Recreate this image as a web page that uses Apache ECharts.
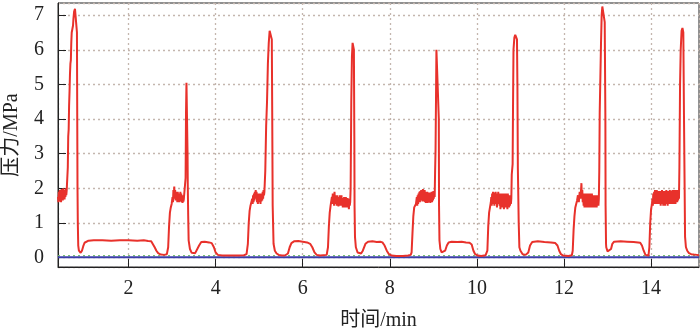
<!DOCTYPE html>
<html>
<head>
<meta charset="utf-8">
<script src="https://cdn.jsdelivr.net/npm/echarts@6/dist/echarts.min.js"></script>
<style>html,body{margin:0;padding:0;background:#fff}#c{width:700px;height:330px}</style>
</head>
<body>
<div id="c"></div>
<script>
// x: time (min), y: pressure (MPa)
const xRange = [0.38, 15.1];
const yRange = [-0.27, 7.35];
const xName = '时间/min';
const yName = '压力/MPa';

const cycle0 = [[0.38,1.75],[0.39,1.6],[0.40,1.9],[0.41,1.62],[0.42,1.95],[0.43,1.68],[0.44,1.9],[0.45,1.6],[0.46,1.98],[0.47,1.7],[0.48,1.92],[0.49,1.65],[0.50,2.0],[0.51,1.72],[0.52,1.95],[0.53,1.68],[0.54,1.9],[0.55,1.75],[0.56,2.0],[0.57,1.8],[0.58,1.95],[0.595,1.9],
[0.605,2.6],[0.615,3.5],[0.625,3.7],[0.635,4.4],[0.645,4.8],[0.655,5.3],[0.665,5.6],[0.675,5.7],[0.685,6.2],[0.695,6.5],[0.71,6.6],[0.725,6.7],[0.735,6.9],[0.75,7.1],[0.77,7.18],[0.79,7.15],[0.805,7.2],[0.815,6.5],[0.822,4.0],[0.828,2.0],[0.835,1.0],[0.845,0.35],[0.86,0.2],[0.88,0.15],[0.90,0.14],[0.93,0.2],[0.96,0.33],[0.99,0.43],[1.03,0.47],[1.08,0.49],[1.2,0.5],[1.4,0.5],[1.6,0.49],[1.8,0.5],[2.0,0.5],[2.2,0.49],[2.35,0.5],[2.45,0.48],[2.52,0.47],[2.56,0.42],[2.6,0.3],[2.64,0.2],[2.68,0.13],[2.74,0.09],[2.82,0.08],[2.88,0.1]];

const cycle1 = [[2.91,0.3],[2.93,0.9],[2.95,1.3],[2.97,1.45],[2.99,1.55],[3.01,1.75],[3.02,1.6],[3.03,1.95],[3.04,1.7],[3.05,2.05],[3.06,1.75],[3.07,1.95],[3.08,1.65],[3.09,1.9],[3.10,1.7],[3.11,1.85],[3.12,1.6],[3.13,1.9],[3.14,1.65],[3.15,1.85],[3.16,1.6],[3.17,1.8],[3.18,1.62],[3.19,1.9],[3.20,1.65],[3.21,1.85],[3.22,1.6],[3.23,1.8],[3.24,1.58],[3.25,1.75],[3.26,1.62],[3.27,1.7],[3.28,1.72],[3.30,1.75],
[3.31,2.3],[3.32,4.2],[3.33,5.05],[3.345,5.0],[3.355,3.0],[3.36,2.1],[3.37,1.2],[3.38,0.5],[3.41,0.25],[3.45,0.14],[3.49,0.12],[3.53,0.13],[3.57,0.17],[3.62,0.35],[3.67,0.45],[3.75,0.46],[3.85,0.44],[3.91,0.42],[3.96,0.3],[4.0,0.15],[4.05,0.08],[4.15,0.06],[4.3,0.06],[4.5,0.06],[4.65,0.07],[4.71,0.1]];

const cycle2 = [[4.74,0.4],[4.76,1.0],[4.78,1.35],[4.80,1.5],[4.82,1.55],[4.84,1.7],[4.85,1.55],[4.86,1.8],[4.87,1.6],[4.88,1.85],[4.89,1.65],[4.90,1.9],[4.91,1.7],[4.92,1.95],[4.93,1.72],[4.94,1.9],[4.95,1.6],[4.96,1.85],[4.97,1.55],[4.98,1.8],[4.99,1.6],[5.00,1.85],[5.01,1.62],[5.02,1.8],[5.03,1.55],[5.04,1.85],[5.05,1.62],[5.06,1.8],[5.07,1.65],[5.08,1.9],[5.09,1.7],[5.10,1.95],[5.11,1.8],[5.12,1.9],
[5.14,2.5],[5.16,3.8],[5.18,4.5],[5.20,5.6],[5.22,6.2],[5.24,6.55],[5.26,6.52],[5.28,6.5],[5.29,6.3],[5.30,4.0],[5.31,1.5],[5.33,0.4],[5.36,0.2],[5.40,0.12],[5.45,0.08],[5.52,0.06],[5.60,0.07],[5.66,0.12],[5.70,0.3],[5.74,0.42],[5.80,0.47],[5.90,0.48],[6.0,0.46],[6.1,0.44],[6.17,0.4],[6.22,0.3],[6.27,0.15],[6.32,0.08],[6.4,0.06],[6.55,0.08]];

const cycle3 = [[6.58,0.3],[6.60,0.9],[6.62,1.3],[6.64,1.5],[6.66,1.5],[6.67,1.75],[6.68,1.55],[6.69,1.85],[6.70,1.6],[6.71,1.8],[6.72,1.5],[6.73,1.9],[6.74,1.6],[6.75,1.8],[6.76,1.55],[6.77,1.75],[6.78,1.5],[6.79,1.8],[6.80,1.6],[6.81,1.75],[6.82,1.48],[6.83,1.7],[6.84,1.55],[6.85,1.8],[6.86,1.5],[6.87,1.75],[6.88,1.6],[6.89,1.8],[6.90,1.5],[6.91,1.7],[6.92,1.45],[6.93,1.72],[6.94,1.55],[6.95,1.75],[6.96,1.45],[6.97,1.7],[6.98,1.5],[6.99,1.75],[7.00,1.45],[7.01,1.7],[7.02,1.5],[7.03,1.72],[7.04,1.45],[7.05,1.7],[7.06,1.4],[7.07,1.65],[7.08,1.5],[7.09,1.6],
[7.10,2.0],[7.115,4.5],[7.13,5.8],[7.145,6.2],[7.16,6.15],[7.175,6.0],[7.185,3.5],[7.19,1.5],[7.20,0.6],[7.22,0.3],[7.26,0.15],[7.30,0.1],[7.34,0.12],[7.38,0.2],[7.44,0.4],[7.5,0.46],[7.6,0.47],[7.7,0.45],[7.78,0.46],[7.83,0.44],[7.88,0.35],[7.93,0.2],[7.98,0.1],[8.04,0.06],[8.15,0.05],[8.3,0.05],[8.42,0.06],[8.48,0.08]];

const cycle4 = [[8.50,0.15],[8.52,0.7],[8.54,1.2],[8.56,1.45],[8.58,1.5],[8.60,1.55],[8.62,1.75],[8.63,1.5],[8.64,1.8],[8.65,1.55],[8.66,1.85],[8.67,1.6],[8.68,1.9],[8.69,1.6],[8.70,1.92],[8.71,1.65],[8.72,1.95],[8.73,1.65],[8.74,1.95],[8.75,1.62],[8.76,1.98],[8.77,1.65],[8.78,1.95],[8.79,1.62],[8.80,1.95],[8.81,1.6],[8.82,1.9],[8.83,1.58],[8.84,1.88],[8.85,1.6],[8.86,1.9],[8.87,1.58],[8.88,1.85],[8.89,1.6],[8.90,1.88],[8.91,1.6],[8.92,1.85],[8.93,1.58],[8.94,1.88],[8.95,1.62],[8.96,1.9],[8.97,1.6],[8.98,1.9],[8.99,1.65],[9.00,1.92],[9.01,1.7],[9.02,1.85],[9.03,1.75],
[9.04,2.5],[9.05,3.1],[9.06,4.5],[9.07,6.0],[9.09,6.05],[9.11,6.0],[9.125,4.0],[9.13,1.5],[9.14,0.5],[9.16,0.25],[9.19,0.15],[9.23,0.12],[9.27,0.2],[9.31,0.35],[9.35,0.44],[9.42,0.46],[9.55,0.45],[9.65,0.46],[9.75,0.44],[9.83,0.43],[9.88,0.38],[9.92,0.2],[9.96,0.1],[10.02,0.06],[10.1,0.05],[10.2,0.07]];

const cycle5 = [[10.24,0.2],[10.26,0.9],[10.28,1.3],[10.30,1.45],[10.32,1.6],[10.33,1.75],[10.34,1.5],[10.35,1.85],[10.36,1.55],[10.37,1.9],[10.38,1.6],[10.39,1.88],[10.40,1.5],[10.41,1.85],[10.42,1.55],[10.43,1.9],[10.44,1.6],[10.45,1.85],[10.46,1.45],[10.47,1.8],[10.48,1.55],[10.49,1.9],[10.50,1.6],[10.51,1.85],[10.52,1.5],[10.53,1.8],[10.54,1.4],[10.55,1.85],[10.56,1.55],[10.57,1.8],[10.58,1.45],[10.59,1.85],[10.60,1.5],[10.61,1.8],[10.62,1.4],[10.63,1.85],[10.64,1.5],[10.65,1.8],[10.66,1.45],[10.67,1.85],[10.68,1.55],[10.69,1.8],[10.70,1.4],[10.71,1.85],[10.72,1.5],[10.73,1.75],[10.74,1.45],[10.75,1.8],[10.76,1.5],[10.77,1.75],[10.78,1.55],[10.79,1.7],
[10.80,2.4],[10.82,2.7],[10.83,4.5],[10.84,6.0],[10.86,6.35],[10.88,6.43],[10.90,6.4],[10.92,6.3],[10.93,5.0],[10.94,2.6],[10.96,1.0],[10.975,0.3],[11.0,0.2],[11.05,0.1],[11.12,0.08],[11.18,0.15],[11.22,0.35],[11.27,0.45],[11.4,0.47],[11.55,0.45],[11.7,0.44],[11.8,0.42],[11.85,0.35],[11.89,0.2],[11.93,0.1],[11.98,0.06],[12.1,0.05],[12.18,0.07]];

const cycle6 = [[12.20,0.2],[12.22,0.8],[12.24,1.2],[12.26,1.45],[12.28,1.55],[12.30,1.65],[12.32,1.8],[12.34,1.6],[12.36,1.9],[12.38,1.7],[12.40,2.15],[12.41,1.75],[12.42,1.95],[12.43,1.6],[12.44,1.85],[12.45,1.5],[12.46,1.8],[12.47,1.45],[12.48,1.85],[12.49,1.55],[12.50,1.8],[12.51,1.45],[12.52,1.85],[12.53,1.55],[12.54,1.8],[12.55,1.45],[12.56,1.85],[12.57,1.5],[12.58,1.8],[12.59,1.45],[12.60,1.85],[12.61,1.5],[12.62,1.8],[12.63,1.45],[12.64,1.85],[12.65,1.55],[12.66,1.8],[12.67,1.45],[12.68,1.8],[12.69,1.5],[12.70,1.75],[12.71,1.45],[12.72,1.8],[12.73,1.5],[12.74,1.75],[12.75,1.45],[12.76,1.8],[12.77,1.5],[12.78,1.75],[12.79,1.5],[12.80,1.7],
[12.81,2.5],[12.82,4.2],[12.835,5.2],[12.85,6.2],[12.865,7.0],[12.88,7.25],[12.90,7.22],[12.92,7.2],[12.935,6.8],[12.95,4.0],[12.955,1.5],[12.965,0.4],[12.97,0.3],[13.0,0.18],[13.04,0.15],[13.08,0.25],[13.11,0.4],[13.15,0.46],[13.3,0.47],[13.45,0.46],[13.6,0.45],[13.75,0.43],[13.79,0.35],[13.83,0.2],[13.87,0.08],[13.94,0.06]];

const cycle7 = [[13.96,0.3],[13.98,1.0],[14.00,1.4],[14.02,1.55],[14.03,1.7],[14.04,1.5],[14.05,1.85],[14.06,1.6],[14.07,1.9],[14.08,1.55],[14.09,1.95],[14.10,1.6],[14.11,1.9],[14.12,1.55],[14.13,1.95],[14.14,1.6],[14.15,1.9],[14.16,1.55],[14.17,1.92],[14.18,1.55],[14.19,1.9],[14.20,1.55],[14.21,1.92],[14.22,1.5],[14.23,1.9],[14.24,1.55],[14.25,1.95],[14.26,1.55],[14.27,1.9],[14.28,1.5],[14.29,1.92],[14.30,1.55],[14.31,1.9],[14.32,1.5],[14.33,1.92],[14.34,1.55],[14.35,1.95],[14.36,1.55],[14.37,1.9],[14.38,1.5],[14.39,1.92],[14.40,1.55],[14.41,1.9],[14.42,1.55],[14.43,1.95],[14.44,1.55],[14.45,1.9],[14.46,1.6],[14.47,1.92],[14.48,1.55],[14.49,1.95],[14.50,1.6],[14.51,1.9],[14.52,1.55],[14.53,1.95],[14.54,1.6],[14.55,1.92],[14.56,1.55],[14.57,1.95],[14.58,1.6],[14.59,1.92],[14.60,1.6],[14.61,1.95],[14.62,1.65],[14.63,1.9],[14.64,1.7],
[14.65,2.6],[14.665,5.0],[14.68,6.0],[14.70,6.55],[14.72,6.63],[14.74,6.5],[14.755,4.1],[14.77,2.0],[14.78,0.6],[14.80,0.3],[14.83,0.2],[14.87,0.13],[14.92,0.1],[14.98,0.09],[15.05,0.08],[15.1,0.07]];

const bluePressure = [[0.38,0.01],[15.1,0.01]];
const greenPressure = [[0.38,0.06],[15.1,0.06]];

const redPressure = [].concat(cycle0, cycle1, cycle2, cycle3, cycle4, cycle5, cycle6, cycle7);

const FONT = "'Liberation Serif','Noto Sans CJK SC',serif";
const gridLine = {show: true, lineStyle: {color: '#c4b6ae', type: [2, 3], width: 1.3}};

const chart = echarts.init(document.getElementById('c'), null, {renderer: 'canvas'});
chart.setOption({
  animation: false,
  backgroundColor: '#fff',
  grid: {left: 58, right: 1, top: 3, bottom: 63, containLabel: false, outerBoundsMode: 'none', show: true, borderColor: '#222', borderWidth: 1, backgroundColor: 'transparent'},
  xAxis: {
    type: 'value', min: xRange[0], max: xRange[1], splitNumber: 7,
    name: xName, nameLocation: 'middle', nameGap: 44,
    nameTextStyle: {fontFamily: FONT, fontSize: 20, color: '#222'},
    axisLine: {show: true, onZero: false, lineStyle: {color: '#222', width: 1}},
    axisTick: {show: true, inside: true, length: 8, lineStyle: {color: '#222'}},
    axisLabel: {fontFamily: FONT, fontSize: 20, color: '#222', margin: 12, showMinLabel: false, showMaxLabel: false},
    splitLine: gridLine
  },
  yAxis: {
    type: 'value', min: yRange[0], max: yRange[1], splitNumber: 7,
    name: yName, nameLocation: 'middle', nameGap: 36, nameRotate: 90,
    nameTextStyle: {fontFamily: FONT, fontSize: 20, color: '#222'},
    axisLine: {show: true, onZero: false, lineStyle: {color: '#222', width: 1}},
    axisTick: {show: true, inside: true, length: 8, lineStyle: {color: '#222'}},
    axisLabel: {fontFamily: FONT, fontSize: 20, color: '#222', margin: 14, showMinLabel: false, showMaxLabel: false},
    splitLine: gridLine
  },
  series: [
    {type: 'line', data: greenPressure, showSymbol: false, lineStyle: {color: '#6fbf6a', width: 1, type: [2, 3]}, z: 2},
    {type: 'line', data: bluePressure, showSymbol: false, lineStyle: {color: '#3b3fa8', width: 2}, z: 3},
    {type: 'line', data: redPressure, showSymbol: false, lineStyle: {color: '#e8312b', width: 2}, z: 4}
  ]
});
</script>
</body>
</html>
